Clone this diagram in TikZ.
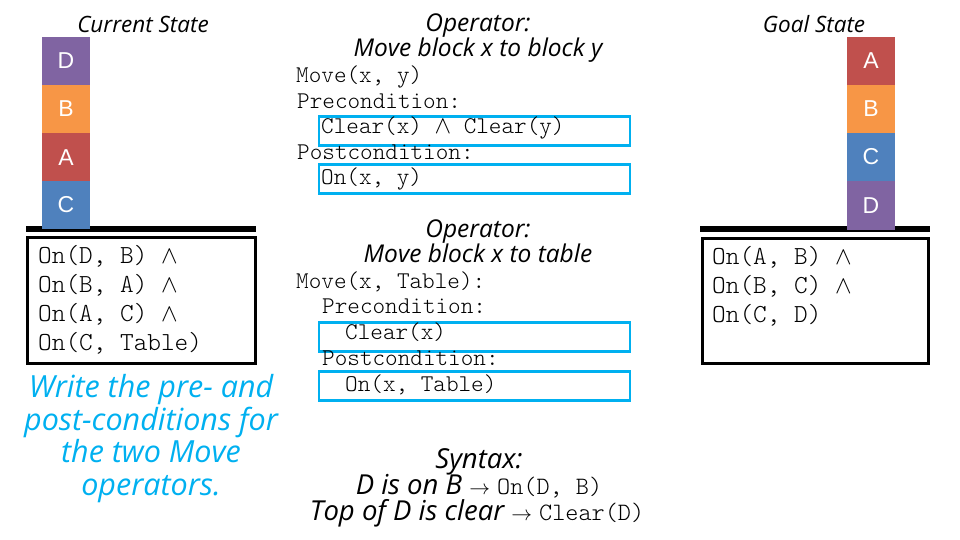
\documentclass[tikz,border=0pt]{standalone}
\usepackage{fontspec}
\setmainfont{Liberation Sans}
\setmonofont{Latin Modern Mono Light}
\newfontfamily\handfont{Open Sans}
\definecolor{blkD}{HTML}{8064A2}
\definecolor{blkB}{HTML}{F79646}
\definecolor{blkA}{HTML}{C0504D}
\definecolor{blkC}{HTML}{4F81BD}
\definecolor{cyanbox}{HTML}{00B0F0}
\tikzset{
  block/.style={fill=#1, minimum width=48pt, minimum height=48pt, inner sep=0pt, text=white, font=\fontsize{23}{26}\selectfont},
  tablebar/.style={fill=black, minimum width=230pt, minimum height=6.5pt, inner sep=0pt},
  statebox/.style={draw=black, line width=3pt, inner sep=0pt},
  condbox/.style={draw=cyanbox, line width=2.5pt, minimum width=311pt, minimum height=29pt, inner sep=0pt},
  monobig/.style={anchor=base west, inner sep=0pt, font=\fontsize{26}{30}\ttfamily},
  mono/.style={anchor=base west, inner sep=0pt, font=\fontsize{24}{28}\ttfamily},
  hand/.style={anchor=base, inner sep=0pt, font=\fontsize{#1}{#1}\handfont\itshape},
  hand/.default=24.5,
}
\newcommand{\andsym}{$\wedge$}
\newcommand{\arrsym}{{\fontsize{20}{22}\selectfont$\rightarrow$}}
\begin{document}
\begin{tikzpicture}[x=1pt,y=-1pt]
\useasboundingbox (0,0) rectangle (960,540);
% ---------- current state ----------
\node[hand=22.5] (curtitle) at (143,33) {Current State};
\node[tablebar] (ltable) at (141,229) {};
\node[block=blkD] (lD) at (66,61) {D};
\node[block=blkB] (lB) at (66,109) {B};
\node[block=blkA] (lA) at (66,157.5) {A};
\node[block=blkC] (lC) at (66,205) {C};
\node[statebox, minimum width=228pt, minimum height=126pt] (lbox) at (141,300.5) {};
\node[monobig] (l1) at (38,263) {On(D, B) \andsym};
\node[monobig] (l2) at (38,292) {On(B, A) \andsym};
\node[monobig] (l3) at (38,321) {On(A, C) \andsym};
\node[monobig] (l4) at (38,350) {On(C, Table)};
% ---------- instruction ----------
\node[hand=30.5, text=cyanbox] (instr) at (151,397) {Write the pre- and};
\node[hand=30.5, text=cyanbox] (instr2) at (151,430) {post-conditions for};
\node[hand=30.5, text=cyanbox] (instr3) at (151,462) {the two Move};
\node[hand=30.5, text=cyanbox] (instr4) at (151,495) {operators.};
% ---------- operator 1 ----------
\node[hand] (op1a) at (478,32) {Operator:};
\node[hand] (op1b) at (478,57) {Move block x to block y};
\node[mono] (m1) at (296,83) {Move(x, y)};
\node[mono] (m1pre) at (297,109) {Precondition:};
\node[condbox] (b1) at (474.5,131) {};
\node[mono] (m1prec) at (321,134) {Clear(x) \andsym{} Clear(y)};
\node[mono] (m1post) at (297,160) {Postcondition:};
\node[condbox] (b2) at (474.5,179) {};
\node[mono] (m1postc) at (321,185) {On(x, y)};
% ---------- operator 2 ----------
\node[hand] (op2a) at (478,237) {Operator:};
\node[hand] (op2b) at (478,262) {Move block x to table};
\node[mono] (m2) at (296,288) {Move(x, Table):};
\node[mono] (m2pre) at (322,313) {Precondition:};
\node[condbox] (b3) at (474.5,337) {};
\node[mono] (m2prec) at (345,339) {Clear(x)};
\node[mono] (m2post) at (322,365) {Postcondition:};
\node[condbox] (b4) at (474.5,386) {};
\node[mono] (m2postc) at (345,391) {On(x, Table)};
% ---------- syntax ----------
\node[hand=27.5] (syn) at (479,468) {Syntax:};
\node[hand=27.5] (syn1) at (479,494) {D is on B \arrsym{} {\fontsize{25}{28}\ttfamily\upshape On(D, B)}};
\node[hand=27.5] (syn2) at (477,520) {Top of D is clear \arrsym{} {\fontsize{25}{28}\ttfamily\upshape Clear(D)}};
% ---------- goal state ----------
\node[hand=22.5] (goaltitle) at (814,33) {Goal State};
\node[tablebar] (rtable) at (815,229) {};
\node[block=blkA] (rA) at (871,61) {A};
\node[block=blkB] (rB) at (871,109) {B};
\node[block=blkC] (rC) at (871,157) {C};
\node[block=blkD] (rD) at (871,205.5) {D};
\node[statebox, minimum width=226pt, minimum height=125pt] (rbox) at (815,300.5) {};
\node[monobig] (r1) at (712,264) {On(A, B) \andsym};
\node[monobig] (r2) at (712,293) {On(B, C) \andsym};
\node[monobig] (r3) at (712,322) {On(C, D)};
\end{tikzpicture}
\end{document}
